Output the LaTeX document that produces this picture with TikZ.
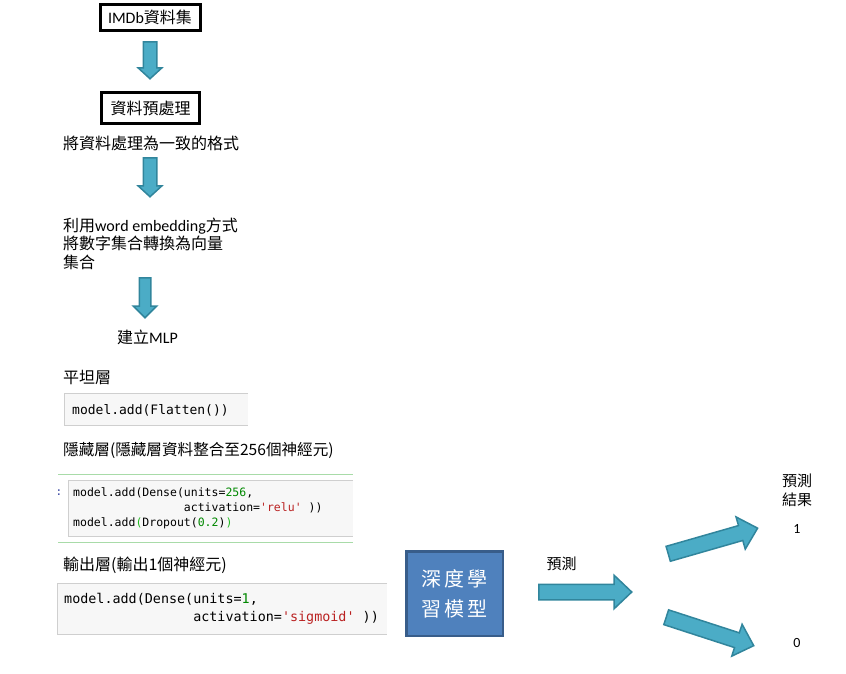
\documentclass[tikz,border=0pt]{standalone}
\usepackage{fontspec}
\setmainfont{Noto Sans CJK TC}
\setmonofont{DejaVu Sans Mono}
\newfontfamily\lat{Carlito}
\usetikzlibrary{shapes.arrows}
\definecolor{arrowfill}{HTML}{4BACC6}
\definecolor{arrowline}{HTML}{31859C}
\definecolor{modelfill}{HTML}{4F81BD}
\definecolor{modelline}{HTML}{385D8A}
\definecolor{codebg}{HTML}{F7F7F7}
\definecolor{codeline}{HTML}{CFCFCF}
\definecolor{cellgreen}{HTML}{A8DBA8}
\definecolor{numgreen}{HTML}{008800}
\definecolor{strred}{HTML}{BA2121}
\definecolor{matchgreen}{HTML}{22BB22}
\definecolor{promptblue}{HTML}{303F9F}
\newcommand{\codenum}[1]{\textcolor{numgreen}{#1}}
\newcommand{\codestr}[1]{\textcolor{strred}{#1}}

\begin{document}
\begin{tikzpicture}[
        x=1pt, y=-1pt,
        font=\fontsize{16}{19}\selectfont,
        stepbox/.style={draw, line width=3pt, inner sep=0},
        label/.style={anchor=west, inner sep=0, align=left},
        code/.style={anchor=west, inner sep=0, align=left, font=\ttfamily\fontsize{13.4}{18}\selectfont},
        flow/.style={single arrow, draw=arrowline, fill=arrowfill, line width=1.5pt,
            inner xsep=0, inner ysep=#1, anchor=tail},
        flow/.default=6pt
    ]
        \useasboundingbox (0,0) rectangle (846,673);

        % left column: preprocessing steps
        \node[stepbox, minimum width=100pt, minimum height=26pt] (imdb) at (150,17) {{\lat IMDb}資料集};
        \node[flow, rotate=-90, minimum height=37pt, single arrow head extend=5pt, single arrow tip angle=95] (a1) at (150,41) {};
        \node[stepbox, minimum width=98pt, minimum height=31pt] (prep) at (150.5,108) {資料預處理};
        \node[label] (fmt) at (63,143.5) {將資料處理為一致的格式};
        \node[flow, rotate=-90, minimum height=39pt, single arrow head extend=5pt, single arrow tip angle=95] (a2) at (150,157) {};
        \node[label, font=\fontsize{16}{18.5}\selectfont] (embed) at (63,243.5)
            {利用{\lat word embedding}方式\\將數字集合轉換為向量\\集合};
        \node[flow=5pt, rotate=-90, minimum height=40pt, single arrow head extend=6pt, single arrow tip angle=90] (a3) at (145,277) {};
        \node[label] (mlp) at (117,337) {建立{\lat MLP}};

        % layers of the MLP
        \node[label] (flat) at (63,377) {平坦層};
        \fill[codebg] (64,393) rectangle (248,425);
        \draw[codeline] (248,393) -- (64,393) -- (64,425) -- (248,425);
        \node[code, font=\ttfamily\fontsize{13}{18}\selectfont] (flatcode) at (72,410) {model.add(Flatten())};

        \node[label, font=\fontsize{15.6}{19}\selectfont] (hidden) at (63,450) {隱藏層(隱藏層資料整合至256個神經元)};
        \draw[cellgreen, line width=1pt] (58,474) -- (353,474);
        \draw[cellgreen, line width=1pt] (58,542) -- (353,542);
        \node[anchor=center, inner sep=0, text=promptblue, font=\ttfamily\fontsize{11}{12}\selectfont] (prompt) at (59,493) {:};
        \fill[codebg] (68,480) rectangle (353,536);
        \draw[codeline] (353,480) -- (68,480) -- (68,536) -- (353,536);
        \node[code, font=\ttfamily\fontsize{11.5}{15}\selectfont] (hiddencode) at (73,508)
            {model.add(Dense(units=\codenum{256},\\
             \hphantom{model.add(Dense(}activation=\codestr{'relu'} ))\\
             model.add\textcolor{matchgreen}{(}Dropout(\codenum{0.2})\textcolor{matchgreen}{)}};

        \node[label] (output) at (63,565) {輸出層(輸出1個神經元)};
        \fill[codebg] (57,583) rectangle (387,634);
        \draw[codeline] (387,583) -- (57,583) -- (57,634) -- (387,634);
        \node[code] (outputcode) at (64,609)
            {model.add(Dense(units=\codenum{1},\\
             \hphantom{model.add(Dense(}activation=\codestr{'sigmoid'} ))};

        % model and prediction
        \node[draw=modelline, fill=modelfill, line width=2.5pt, inner sep=0,
            minimum width=96.5pt, minimum height=84.5pt, text=white, align=center,
            font=\fontsize{20}{30}\selectfont] (model) at (454.5,593.5)
            {深\hspace{3pt}度\hspace{3pt}學\\習\hspace{3pt}模\hspace{3pt}型};
        \node[inner sep=0, font=\fontsize{15}{18}\selectfont] (pred) at (561.5,564) {預測};
        \node[flow=7pt, minimum height=93pt, single arrow head extend=9pt, single arrow tip angle=87] (ar) at (538,592) {};
        \node[flow=7pt, rotate=16, minimum height=93pt, single arrow head extend=9pt, single arrow tip angle=87] (au) at (667.5,554) {};
        \node[flow=7pt, rotate=-18, minimum height=92pt, single arrow head extend=9pt, single arrow tip angle=87] (ad) at (665.5,617) {};

        \node[inner sep=0, align=center, font=\fontsize{15}{19}\selectfont] (result) at (797,490) {預測\\結果};
        \node[inner sep=0, font=\lat\fontsize{14}{15}\selectfont] (one) at (797,529) {1};
        \node[inner sep=0, font=\lat\fontsize{14}{15}\selectfont] (zero) at (797,643) {0};
    \end{tikzpicture}
\end{document}
